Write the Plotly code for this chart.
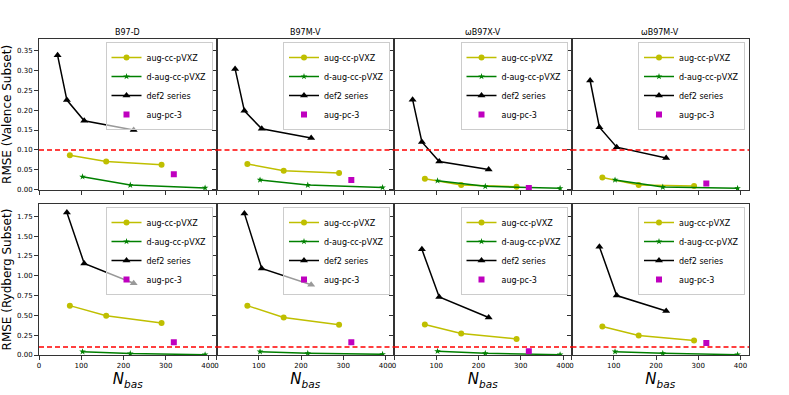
import plotly.graph_objects as go
from plotly.subplots import make_subplots

functionals = ["B97-D", "B97M-V", "ωB97X-V", "ωB97M-V"]
series_names = ["aug-cc-pVXZ", "d-aug-cc-pVXZ", "def2 series", "aug-pc-3"]

nbas_aug_cc = [73, 159, 290]
nbas_daug_cc = [103, 216, 393]
nbas_def2_val = [44, 66, 107, 224]
nbas_def2_ryd = [66, 107, 224]
nbas_pc3 = [319]

x_ticks = [0, 100, 200, 300, 400]
val_ticks = [0.0, 0.05, 0.10, 0.15, 0.20, 0.25, 0.30, 0.35]
ryd_ticks = [0.0, 0.25, 0.50, 0.75, 1.00, 1.25, 1.50, 1.75]
threshold = 0.1

# Valence subset RMSE
aug_cc_val = [[0.087, 0.071, 0.063], [0.065, 0.048, 0.042], [0.028, 0.012, 0.008], [0.031, 0.012, 0.010]]
daug_cc_val = [[0.033, 0.012, 0.005], [0.025, 0.012, 0.006], [0.023, 0.009, 0.004], [0.025, 0.007, 0.004]]
def2_val = [[0.337, 0.225, 0.173, 0.150], [0.303, 0.198, 0.153, 0.130],
            [0.226, 0.120, 0.071, 0.051], [0.274, 0.157, 0.107, 0.080]]
pc3_val = [0.039, 0.025, 0.005, 0.016]

# Rydberg subset RMSE
aug_cc_ryd = [[0.623, 0.496, 0.403], [0.623, 0.474, 0.381], [0.385, 0.271, 0.203], [0.360, 0.245, 0.182]]
daug_cc_ryd = [[0.042, 0.018, 0.004], [0.042, 0.022, 0.009], [0.047, 0.022, 0.004], [0.042, 0.022, 0.004]]
def2_ryd = [[1.800, 1.156, 0.906], [1.788, 1.093, 0.886], [1.334, 0.733, 0.474], [1.368, 0.750, 0.555]]
pc3_ryd = [0.161, 0.161, 0.047, 0.152]

C_AUG = "#bfbf00"
C_DAUG = "#008000"
C_DEF2 = "#000000"
C_PC3 = "#bf00bf"
FONT = "DejaVu Sans"

fig = make_subplots(rows=2, cols=4, shared_yaxes=True, horizontal_spacing=0,
                    vertical_spacing=0.045, subplot_titles=functionals)

rows_data = [
    (aug_cc_val, daug_cc_val, def2_val, pc3_val, nbas_def2_val),
    (aug_cc_ryd, daug_cc_ryd, def2_ryd, pc3_ryd, nbas_def2_ryd),
]

W = 710.0
H = 316.0
row_top = [1.0, (H - 14) / 2 / H]

for r, (aug, daug, d2, pc3, nb_d2) in enumerate(rows_data):
    for c in range(4):
        idx = r * 4 + c
        lg = "legend" if idx == 0 else f"legend{idx + 1}"
        fig.add_trace(go.Scatter(x=nbas_aug_cc, y=aug[c], name=series_names[0], mode="lines+markers",
                                 line=dict(color=C_AUG, width=1.5), marker=dict(symbol="circle", size=6, color=C_AUG),
                                 legend=lg), row=r + 1, col=c + 1)
        fig.add_trace(go.Scatter(x=nbas_daug_cc, y=daug[c], name=series_names[1], mode="lines+markers",
                                 line=dict(color=C_DAUG, width=1.5), marker=dict(symbol="star", size=5, color=C_DAUG),
                                 legend=lg), row=r + 1, col=c + 1)
        fig.add_trace(go.Scatter(x=nb_d2, y=d2[c], name=series_names[2], mode="lines+markers",
                                 line=dict(color=C_DEF2, width=1.5), marker=dict(symbol="triangle-up", size=7, color=C_DEF2),
                                 legend=lg), row=r + 1, col=c + 1)
        fig.add_trace(go.Scatter(x=nbas_pc3, y=[pc3[c]], name=series_names[3], mode="markers",
                                 marker=dict(symbol="square", size=6, color=C_PC3),
                                 legend=lg), row=r + 1, col=c + 1)
        fig.add_hline(y=threshold, line=dict(color="red", width=1.5, dash="5px,3px"), row=r + 1, col=c + 1)
        fig.update_layout({lg: dict(
            x=0.25 * (c + 1) - 4 / W, xanchor="right",
            y=row_top[r] - 3 / H, yanchor="top",
            bgcolor="rgba(255,255,255,0.6)", bordercolor="#cccccc", borderwidth=1,
            font=dict(family=FONT, size=8, color="#000"),
            itemwidth=30, tracegroupgap=0,
        )})

axis_common = dict(showline=True, mirror=True, linecolor="#333", linewidth=1, showgrid=False,
                   zeroline=False, ticks="outside", ticklen=4, tickcolor="#333", automargin=False,
                   tickfont=dict(family=FONT, size=7, color="#000"))

for r in range(2):
    for c in range(4):
        fig.update_xaxes(range=[0, 420], tickvals=x_ticks, showticklabels=(r == 1),
                         row=r + 1, col=c + 1, **axis_common)
        if r == 1:
            fig.update_xaxes(title=dict(text="<i>N</i><sub><i>bas</i></sub>", standoff=2,
                                        font=dict(family=FONT, size=15, color="#000")),
                             row=r + 1, col=c + 1)
    fig.update_yaxes(row=r + 1, **axis_common)

fig.update_yaxes(range=[0, 0.378], tickvals=val_ticks, tickformat=".2f", row=1)
fig.update_yaxes(range=[0, 1.905], tickvals=ryd_ticks, tickformat=".2f", row=2)
fig.update_yaxes(title=dict(text="RMSE (Valence Subset)", standoff=3, font=dict(family=FONT, size=12, color="#000")),
                 row=1, col=1)
fig.update_yaxes(title=dict(text="RMSE (Rydberg Subset)", standoff=3, font=dict(family=FONT, size=12, color="#000")),
                 row=2, col=1)

for ann in fig.layout.annotations:
    ann.font = dict(family=FONT, size=8, color="#000")

fig.update_layout(width=789, height=395, margin=dict(l=39, r=40, t=39, b=40),
                  plot_bgcolor="white", paper_bgcolor="white",
                  font=dict(family=FONT, color="#000"))

fig.write_html("out.html", config={"displayModeBar": False},
               post_script="document.body.style.margin='0';document.body.style.overflow='hidden';")
